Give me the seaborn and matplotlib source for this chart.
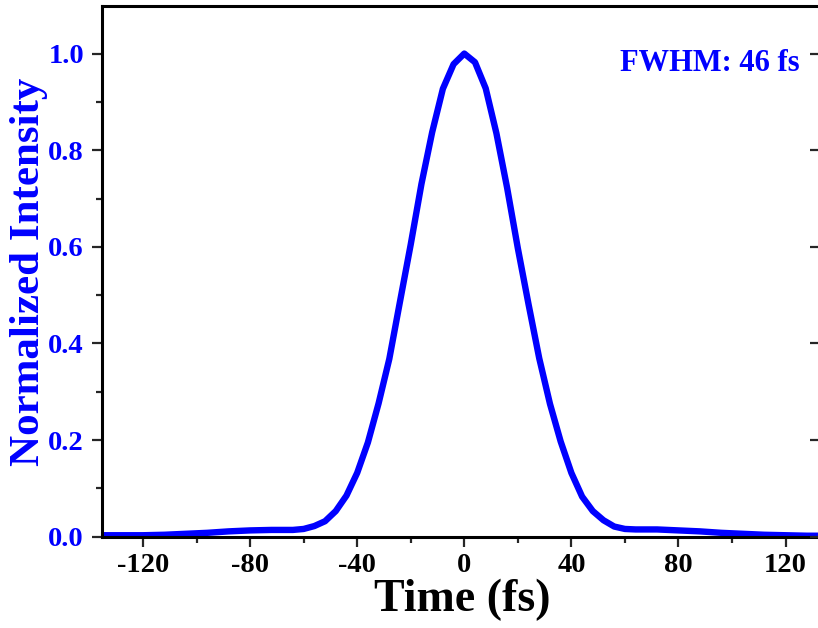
import matplotlib
matplotlib.use("Agg")
import matplotlib.pyplot as plt
from matplotlib.ticker import MultipleLocator, NullLocator
import pandas as pd
import seaborn as sns

# ── Data ──────────────────────────────────────────────────────────────────────
time_fs = [-136, -128, -120, -112, -104, -96, -88, -80, -72, -64, -60, -56,
           -52, -48, -44, -40, -36, -32, -28, -24, -20, -16, -12, -8, -4, 0,
           4, 8, 12, 16, 20, 24, 28, 32, 36, 40, 44, 48, 52, 56, 60, 64, 72,
           80, 88, 96, 104, 112, 120, 128, 136]
intensity = [0.003, 0.003, 0.003, 0.004, 0.006, 0.008, 0.011, 0.013, 0.014,
             0.014, 0.016, 0.022, 0.032, 0.053, 0.085, 0.132, 0.195, 0.276,
             0.368, 0.487, 0.605, 0.730, 0.837, 0.927, 0.978, 1.000,
             0.982, 0.928, 0.835, 0.722, 0.597, 0.481, 0.369, 0.275, 0.197,
             0.132, 0.083, 0.053, 0.034, 0.021, 0.016, 0.015, 0.015, 0.013,
             0.011, 0.008, 0.006, 0.004, 0.003, 0.002, 0.002]
fwhm_text = "FWHM: 46 fs"

BLUE = "#0000FF"

sns.set_style("ticks")
plt.rcParams["font.family"] = ["Liberation Serif", "DejaVu Serif"]
plt.rcParams["font.weight"] = "bold"
plt.rcParams["axes.unicode_minus"] = False

df = pd.DataFrame({"Time": time_fs, "Intensity": intensity})

fig = plt.figure(figsize=(8.18, 6.28), dpi=100)
ax = fig.add_axes([0.1247, 0.1454, 0.8802, 0.8447])

sns.lineplot(data=df, x="Time", y="Intensity", color=BLUE, linewidth=4.6,
             ax=ax, legend=False)

ax.set_xlim(-135.3, 133.6)
ax.set_ylim(0, 1.098)
ax.xaxis.set_major_locator(MultipleLocator(40))
ax.xaxis.set_minor_locator(MultipleLocator(20))
ax.yaxis.set_major_locator(MultipleLocator(0.2))
ax.yaxis.set_minor_locator(MultipleLocator(0.1))
ax.yaxis.set_major_formatter(plt.FuncFormatter(lambda v, p: f"{v:.1f}"))

for s in ax.spines.values():
    s.set_linewidth(2.2)
    s.set_color("black")

ax.tick_params(axis="both", which="major", direction="out", length=7,
               width=1.6, labelsize=20.5, pad=5)
ax.tick_params(axis="y", which="major", pad=6)
ax.tick_params(axis="both", which="minor", direction="out", length=4,
               width=1.6)
ax.tick_params(axis="y", labelcolor=BLUE)
ax.tick_params(axis="x", labelcolor="black")

# inward ticks on the right side (spine itself falls just outside the image)
ax_r = ax.twinx()
ax_r.set_ylim(ax.get_ylim())
ax_r.yaxis.set_major_locator(MultipleLocator(0.2))
ax_r.yaxis.set_minor_locator(NullLocator())
ax_r.tick_params(axis="y", which="major", direction="in", length=9,
                 width=1.6, labelright=False)
for s in ax_r.spines.values():
    s.set_visible(False)

ax.set_xlabel("Time (fs)", fontsize=33, fontweight="bold", color="black",
              labelpad=0)
ax.set_ylabel("Normalized Intensity", fontsize=31, fontweight="bold",
              color=BLUE, labelpad=0)

fig.text(800 / 818, 1 - 70.7 / 628, fwhm_text, ha="right", va="baseline",
         fontsize=22, fontweight="bold", color=BLUE)

fig.savefig("out.png", dpi=100)
